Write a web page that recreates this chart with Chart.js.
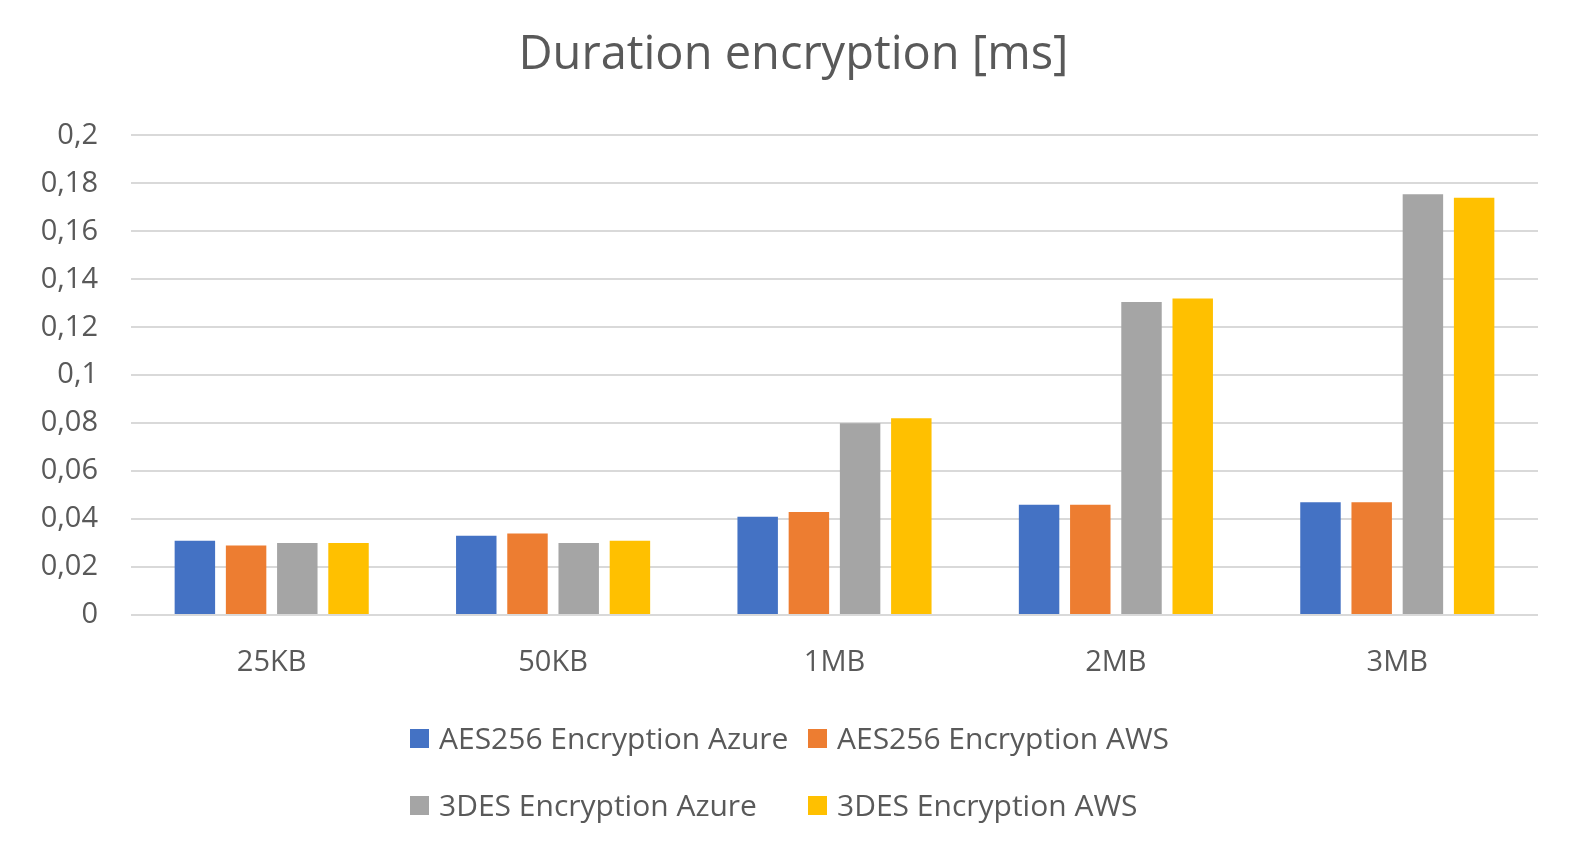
<!DOCTYPE html>
<html>
<head>
<meta charset="utf-8">
<script src="https://cdn.jsdelivr.net/npm/chart.js@4/dist/chart.umd.min.js"></script>
<style>
  html, body { margin: 0; padding: 0; background: #fff; }
  #wrap { position: relative; width: 1587px; height: 864px; }
  #c { position: absolute; left: 0; top: 0; }
  .lg { position: absolute; font-family: "Open Sans", Lato, sans-serif; font-size: 30px; color: #595959; white-space: nowrap; line-height: 1; }
  .lg .box { position: absolute; left: 0; width: 19px; height: 19px; }
  .lg .txt { position: absolute; left: 29px; }
</style>
</head>
<body>
<div id="wrap">
  <canvas id="c" width="1587" height="864"></canvas>
</div>
<script>
const categories = ["25KB", "50KB", "1MB", "2MB", "3MB"];
const seriesNames = ["AES256 Encryption Azure", "AES256 Encryption AWS", "3DES Encryption Azure", "3DES Encryption AWS"];
const aesAzure = [0.031, 0.033, 0.041, 0.046, 0.047];
const aesAws   = [0.029, 0.034, 0.043, 0.046, 0.047];
const desAzure = [0.030, 0.030, 0.080, 0.1305, 0.1755];
const desAws   = [0.030, 0.031, 0.082, 0.132, 0.174];
const seriesColors = ["#4472C4", "#ED7D31", "#A5A5A5", "#FFC000"];
const yTicks = [0, 0.02, 0.04, 0.06, 0.08, 0.1, 0.12, 0.14, 0.16, 0.18, 0.2];
const titleText = "Duration encryption [ms]";

const seriesValues = [aesAzure, aesAws, desAzure, desAws];
const FONT = "'Open Sans', Lato, sans-serif";
const TXT = "#595959";

const datasets = seriesNames.map((n, i) => ({
  label: n,
  data: seriesValues[i],
  backgroundColor: seriesColors[i],
  borderWidth: 0,
  categoryPercentage: 0.728,
  barPercentage: 0.79
}));

new Chart(document.getElementById('c'), {
  type: 'bar',
  data: { labels: categories, datasets },
  options: {
    responsive: false,
    devicePixelRatio: 1,
    animation: false,
    layout: { padding: { left: 0, right: 0, top: 0, bottom: 179 } },
    plugins: {
      legend: { display: false },
      tooltip: { enabled: false },
      title: {
        display: true,
        text: titleText,
        color: TXT,
        font: { family: FONT, size: 47, weight: 'normal' },
        padding: { top: 27, bottom: 52 }
      }
    },
    scales: {
      x: {
        grid: { display: false, drawTicks: false, tickLength: 0 },
        border: { display: false },
        ticks: { color: TXT, font: { family: FONT, size: 29 }, padding: 30 },
        afterFit: (s) => { s.height = 70; }
      },
      y: {
        min: 0, max: 0.2,
        afterBuildTicks: (s) => { s.ticks = yTicks.map(v => ({ value: v })); },
        grid: { color: "#D9D9D9", lineWidth: 2, drawTicks: false, tickLength: 0 },
        border: { display: false },
        ticks: {
          color: TXT,
          font: { family: FONT, size: 29 },
          padding: 33,
          callback: (v) => String(Math.round(v * 1000) / 1000).replace('.', ',')
        },
        afterFit: (s) => { s.width = 131; }
      },
      yRight: {
        position: 'right',
        display: true,
        min: 0, max: 0.2,
        grid: { display: false, drawTicks: false, tickLength: 0 },
        border: { display: false },
        ticks: { display: false },
        afterFit: (s) => { s.width = 49; }
      }
    }
  }
});

// legend (HTML)
const legendPos = [[410, 729], [808, 729], [410, 796], [808, 796]];
const wrap = document.getElementById('wrap');
seriesNames.forEach((n, i) => {
  const d = document.createElement('div');
  d.className = 'lg';
  d.style.left = legendPos[i][0] + 'px';
  d.style.top = legendPos[i][1] + 'px';
  const b = document.createElement('div');
  b.className = 'box';
  b.style.background = seriesColors[i];
  b.style.top = '0px';
  const t = document.createElement('div');
  t.className = 'txt';
  t.style.top = '-6px';
  t.textContent = n;
  d.appendChild(b); d.appendChild(t);
  wrap.appendChild(d);
});
</script>
</body>
</html>
